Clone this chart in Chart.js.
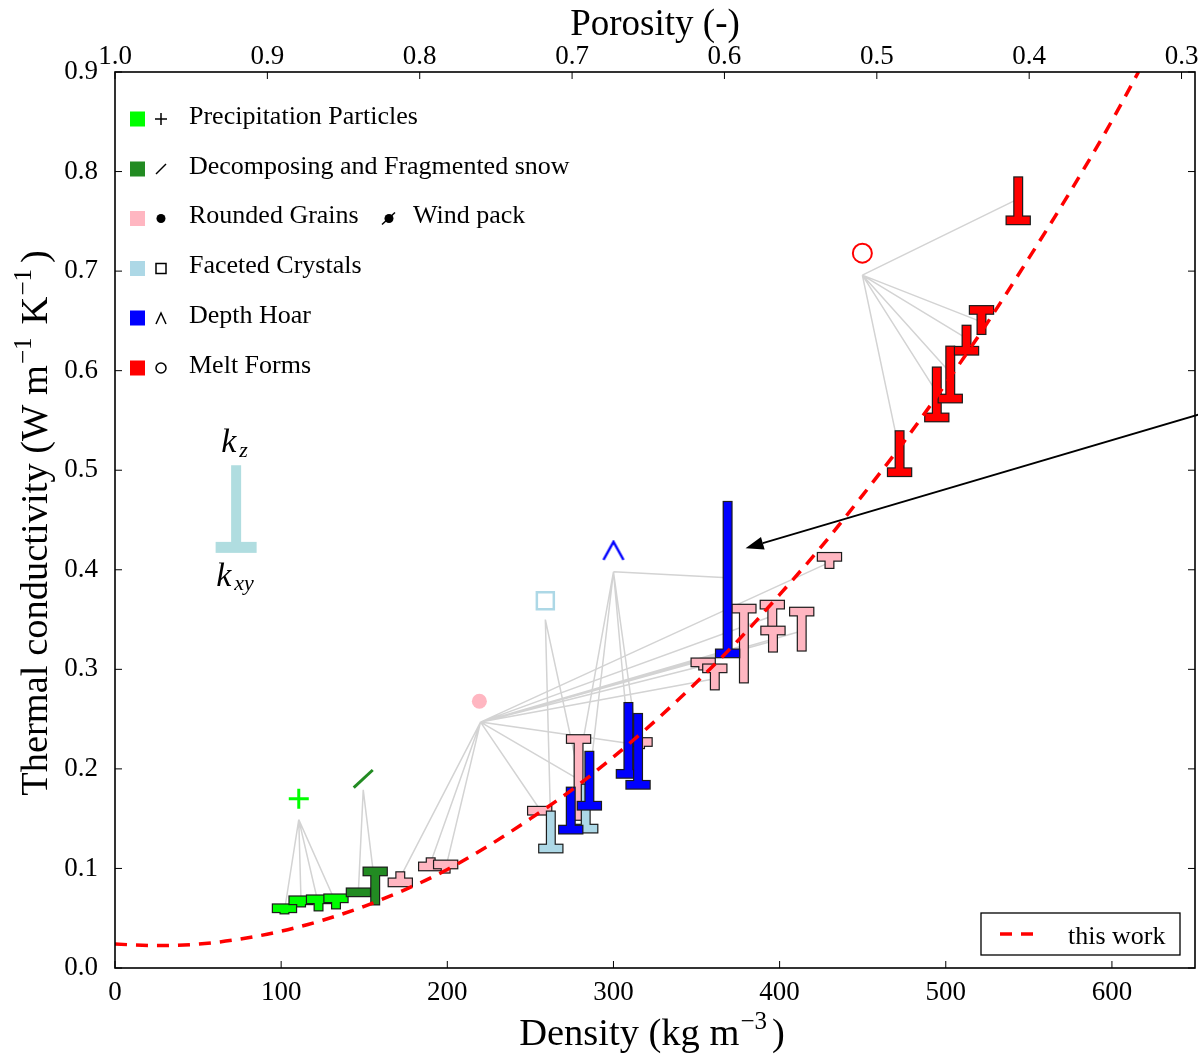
<!DOCTYPE html>
<html>
<head>
<meta charset="utf-8">
<script src="https://cdn.jsdelivr.net/npm/chart.js@4.4.0/dist/chart.umd.min.js"></script>
<style>
  body { margin: 0; background: #fff; }
  #wrap { width: 1198px; height: 1056px; }
</style>
</head>
<body>
<div id="wrap"><canvas id="snowChart" width="1198" height="1056"></canvas></div>
<script>
// axis ticks
const densityTicks = [0, 100, 200, 300, 400, 500, 600];
const porosityTicks = [1.0, 0.9, 0.8, 0.7, 0.6, 0.5, 0.4, 0.3];
const condTicks = [0, 0.1, 0.2, 0.3, 0.4, 0.5, 0.6, 0.7, 0.8, 0.9];
const iceDensity = 917;

// snow classes
const classNames = ['Precipitation Particles', 'Decomposing and Fragmented snow', 'Rounded Grains',
                    'Faceted Crystals', 'Depth Hoar', 'Melt Forms'];
const classColors = ['#00ff00', '#228b22', '#ffb6c1', '#add8e6', '#0000ff', '#ff0000'];

// class symbol and where the grey lines start
const symbolDensity = [110.6, 149.4, 219.3, 259.0, 300.0, 449.8];
const symbolCond = [0.170, 0.190, 0.268, 0.369, 0.419, 0.718];
const hubDensity = [110.6, 149.4, 220.0, 259.0, 300.0, 449.8];
const hubCond = [0.149, 0.179, 0.247, 0.350, 0.398, 0.696];

// samples: class, density, k_xy, k_z
const sampleClass = [0, 0, 0, 0,
                     1, 1,
                     2, 2, 2, 2, 2, 2, 2, 2, 2, 2, 2, 2, 2,
                     3, 3,
                     4, 4, 4, 4, 4,
                     5, 5, 5, 5, 5, 5];
const sampleDensity = [102, 112, 122.5, 133,
                       146.5, 156.6,
                       171.7, 190, 199, 255.6, 279, 316, 354, 361, 378.5, 395.6, 396, 413.3, 430,
                       262.3, 283.3,
                       274.3, 285.5, 309, 314.8, 368.7,
                       472.2, 494.6, 502.7, 512.5, 521.5, 543.6];
const sampleKxy = [0.060, 0.068, 0.069, 0.070,
                   0.076, 0.097,
                   0.086, 0.102, 0.104, 0.158, 0.230, 0.227, 0.307, 0.301, 0.361, 0.365, 0.339, 0.358, 0.413,
                   0.120, 0.140,
                   0.139, 0.163, 0.195, 0.184, 0.316,
                   0.498, 0.553, 0.572, 0.620, 0.661, 0.751];
const sampleKz = [0.055, 0.062, 0.058, 0.060,
                  0.079, 0.064,
                  0.096, 0.110, 0.096, 0.161, 0.149, 0.221, 0.300, 0.280, 0.287, 0.342, 0.318, 0.319, 0.402,
                  0.157, 0.184,
                  0.181, 0.217, 0.266, 0.255, 0.468,
                  0.539, 0.603, 0.624, 0.645, 0.637, 0.794];

// "this work" curve
const fitDensity = [0, 25, 50, 75, 100, 125, 150, 175, 200, 225, 250, 275, 300,
                    325, 350, 375, 400, 425, 450, 475, 500, 525, 550, 575, 600, 616];
const fitCond = [0.024, 0.0225, 0.024, 0.029, 0.037, 0.048, 0.062, 0.079, 0.099, 0.123, 0.150, 0.179, 0.212,
                 0.248, 0.287, 0.329, 0.375, 0.423, 0.475, 0.529, 0.587, 0.648, 0.713, 0.780, 0.851, 0.900];

// annotations
const keyDensity = 72.9, keyKz = 0.505, keyKxy = 0.4225;
const arrowFrom = [652.4, 0.556];
const arrowTo = [379.5, 0.4216];

const serif = "'Liberation Serif', 'Times New Roman', serif";
const tickFont = { family: serif, size: 27 };
const mainTitle = '38.5px ' + serif;
const supTitle = '25px ' + serif;

// caret symbol for depth hoar
function caretImage(color, w, h, lw) {
  const c = document.createElement('canvas');
  c.width = w; c.height = h;
  const g = c.getContext('2d');
  g.strokeStyle = color; g.lineWidth = lw; g.lineJoin = 'miter';
  g.beginPath();
  g.moveTo(2, h - 2); g.lineTo(w / 2, 2); g.lineTo(w - 2, h - 2);
  g.stroke();
  return c;
}

function connectorData(c) {
  const pts = [];
  sampleClass.forEach((cls, i) => {
    if (cls !== c) return;
    pts.push({ x: hubDensity[c], y: hubCond[c] });
    pts.push({ x: sampleDensity[i], y: (sampleKxy[i] + sampleKz[i]) / 2 });
    pts.push({ x: sampleDensity[i], y: null });
  });
  return pts;
}

function drawSamples(chart) {
  const { ctx, chartArea, scales: { x, y } } = chart;
  const stemW = 7.6, barW = 23, barH = 7.4;
  ctx.save();
  ctx.beginPath();
  ctx.rect(chartArea.left, chartArea.top, chartArea.width, chartArea.height);
  ctx.clip();
  for (let i = 0; i < sampleDensity.length; i++) {
    const px = x.getPixelForValue(sampleDensity[i]);
    const pxy = y.getPixelForValue(sampleKxy[i]);
    const pz = y.getPixelForValue(sampleKz[i]);
    const rects = [
      [px - stemW / 2, Math.min(pxy, pz), stemW, Math.abs(pz - pxy)],
      [px - barW / 2, pxy - barH / 2, barW, barH]
    ];
    ctx.lineWidth = 2.4;
    ctx.strokeStyle = '#1c1c1c';
    rects.forEach(r => ctx.strokeRect(r[0], r[1], r[2], r[3]));
    ctx.fillStyle = classColors[sampleClass[i]];
    rects.forEach(r => ctx.fillRect(r[0], r[1], r[2], r[3]));
  }
  ctx.restore();
}

function drawFrame(chart) {
  const { ctx, chartArea: a, scales } = chart;
  const t = 7;
  ctx.save();
  ctx.strokeStyle = '#000';
  ctx.lineWidth = 1;
  ctx.beginPath();
  scales.x.ticks.forEach(tk => {
    const p = scales.x.getPixelForValue(tk.value);
    ctx.moveTo(p, a.bottom); ctx.lineTo(p, a.bottom - t);
  });
  scales.xTop.ticks.forEach(tk => {
    const p = scales.xTop.getPixelForValue(tk.value);
    ctx.moveTo(p, a.top); ctx.lineTo(p, a.top + t);
  });
  scales.y.ticks.forEach(tk => {
    const p = scales.y.getPixelForValue(tk.value);
    ctx.moveTo(a.left, p); ctx.lineTo(a.left + t, p);
    ctx.moveTo(a.right, p); ctx.lineTo(a.right - t, p);
  });
  ctx.stroke();
  ctx.lineWidth = 1.6;
  ctx.strokeRect(a.left, a.top, a.width, a.height);
  ctx.restore();
}

// text made of pieces, some raised as superscripts
function drawRichText(ctx, parts, x, y, rotate) {
  ctx.save();
  ctx.translate(x, y);
  if (rotate) ctx.rotate(-Math.PI / 2);
  ctx.fillStyle = '#000';
  ctx.textBaseline = 'alphabetic';
  ctx.textAlign = 'left';
  let total = 0;
  parts.forEach(p => { ctx.font = p.font; total += ctx.measureText(p.text).width + (p.gap || 0); });
  let cx = -total / 2;
  parts.forEach(p => {
    ctx.font = p.font;
    ctx.fillText(p.text, cx, -(p.rise || 0));
    cx += ctx.measureText(p.text).width + (p.gap || 0);
  });
  ctx.restore();
}

function drawTitles(chart) {
  const { ctx, chartArea: a } = chart;
  const mid = (a.left + a.right) / 2;
  drawRichText(ctx, [
    { text: 'Density (kg m', font: mainTitle, gap: 1 },
    { text: '−3', font: supTitle, rise: 16, gap: 5 },
    { text: ')', font: mainTitle }
  ], mid - 3, 1045, false);
  drawRichText(ctx, [{ text: 'Porosity (-)', font: '37px ' + serif }], mid, 35, false);
  drawRichText(ctx, [
    { text: 'Thermal conductivity (W m', font: mainTitle, gap: 1 },
    { text: '−1', font: supTitle, rise: 16, gap: 13 },
    { text: 'K', font: mainTitle, gap: 1 },
    { text: '−1', font: supTitle, rise: 16, gap: 6 },
    { text: ')', font: mainTitle }
  ], 47, (a.top + a.bottom) / 2 + 3, true);
}

function drawArrow(chart) {
  const { ctx, scales: { x, y } } = chart;
  const x0 = x.getPixelForValue(arrowFrom[0]), y0 = y.getPixelForValue(arrowFrom[1]);
  const x1 = x.getPixelForValue(arrowTo[0]), y1 = y.getPixelForValue(arrowTo[1]);
  const ang = Math.atan2(y1 - y0, x1 - x0);
  const len = 18, half = 6.5;
  const bx = x1 - len * Math.cos(ang), by = y1 - len * Math.sin(ang);
  ctx.save();
  ctx.strokeStyle = '#000'; ctx.fillStyle = '#000'; ctx.lineWidth = 1.8;
  ctx.beginPath(); ctx.moveTo(x0, y0); ctx.lineTo(bx, by); ctx.stroke();
  ctx.beginPath();
  ctx.moveTo(x1, y1);
  ctx.lineTo(bx + half * Math.sin(ang), by - half * Math.cos(ang));
  ctx.lineTo(bx - half * Math.sin(ang), by + half * Math.cos(ang));
  ctx.closePath(); ctx.fill();
  ctx.restore();
}

function drawKey(chart) {
  const { ctx, scales: { x, y } } = chart;
  const px = x.getPixelForValue(keyDensity);
  const pz = y.getPixelForValue(keyKz);
  const pxy = y.getPixelForValue(keyKxy);
  ctx.save();
  ctx.fillStyle = '#b0dde0';
  ctx.fillRect(px - 5, pz, 10, pxy - pz);
  ctx.fillRect(px - 20.5, pxy - 5.5, 41, 11);
  ctx.fillStyle = '#000';
  ctx.textBaseline = 'alphabetic';
  ctx.font = 'italic 34px ' + serif;
  ctx.fillText('k', px - 15, pz - 13);
  ctx.fillText('k', px - 20, pxy + 39);
  ctx.font = 'italic 22px ' + serif;
  ctx.fillText('z', px + 3, pz - 8);
  ctx.fillText('xy', px - 2, pxy + 43);
  ctx.restore();
}

function drawClassLegend(chart) {
  const { ctx } = chart;
  const rows = [119, 169, 218.5, 268.5, 318, 368];
  ctx.save();
  ctx.font = '26px ' + serif;
  ctx.textBaseline = 'alphabetic';
  rows.forEach((cy, i) => {
    ctx.fillStyle = classColors[i];
    ctx.fillRect(130, cy - 7.5, 15, 15);
    ctx.fillStyle = '#000';
    ctx.fillText(classNames[i], 189, cy + 4.5);
    const sx = 161;
    ctx.strokeStyle = '#000'; ctx.lineWidth = 1.5;
    ctx.beginPath();
    if (i === 0) {
      ctx.moveTo(sx - 6, cy); ctx.lineTo(sx + 6, cy);
      ctx.moveTo(sx, cy - 6); ctx.lineTo(sx, cy + 6);
      ctx.stroke();
    } else if (i === 1) {
      ctx.moveTo(sx - 5, cy + 5); ctx.lineTo(sx + 5, cy - 5);
      ctx.stroke();
    } else if (i === 2) {
      ctx.arc(sx, cy, 4.5, 0, Math.PI * 2); ctx.fill();
      // wind pack
      ctx.beginPath(); ctx.arc(389, cy, 4.5, 0, Math.PI * 2); ctx.fill();
      ctx.beginPath(); ctx.moveTo(382, cy + 6); ctx.lineTo(395, cy - 6); ctx.stroke();
      ctx.fillText('Wind pack', 413, cy + 4.5);
    } else if (i === 3) {
      ctx.strokeRect(sx - 5, cy - 5, 10, 10);
    } else if (i === 4) {
      ctx.moveTo(sx - 5, cy + 6); ctx.lineTo(sx, cy - 5); ctx.lineTo(sx + 5, cy + 6);
      ctx.stroke();
    } else {
      ctx.arc(sx, cy, 5, 0, Math.PI * 2); ctx.stroke();
    }
  });
  ctx.restore();
}

function drawFitLegend(chart) {
  const { ctx } = chart;
  ctx.save();
  ctx.fillStyle = '#fff';
  ctx.fillRect(981, 913, 199, 42);
  ctx.strokeStyle = '#000'; ctx.lineWidth = 1.3;
  ctx.strokeRect(981, 913, 199, 42);
  ctx.strokeStyle = '#ff0000'; ctx.lineWidth = 3.5;
  ctx.setLineDash([12, 9]);
  ctx.beginPath(); ctx.moveTo(1000, 934); ctx.lineTo(1034, 934); ctx.stroke();
  ctx.setLineDash([]);
  ctx.fillStyle = '#000';
  ctx.font = '26px ' + serif;
  ctx.fillText('this work', 1068, 944);
  ctx.restore();
}

const snowPlugin = {
  id: 'snowMarkers',
  beforeDatasetDraw(chart, args) {
    if (args.index === 0) drawSamples(chart);
  },
  afterDraw(chart) {
    drawFrame(chart);
    drawTitles(chart);
    drawArrow(chart);
    drawKey(chart);
    drawClassLegend(chart);
    drawFitLegend(chart);
  }
};

const datasets = [{
  label: 'this work',
  data: fitDensity.map((d, i) => ({ x: d, y: fitCond[i] })),
  showLine: true,
  borderColor: '#ff0000',
  borderWidth: 3.5,
  borderDash: [12, 9],
  pointRadius: 0,
  cubicInterpolationMode: 'monotone'
}];

classNames.forEach((name, c) => {
  datasets.push({
    label: name + ' links',
    data: connectorData(c),
    showLine: true,
    spanGaps: false,
    borderColor: '#d3d3d3',
    borderWidth: 1.5,
    pointRadius: 0
  });
});

const symbolStyles = [
  { pointStyle: 'cross', pointRadius: 10, pointBorderWidth: 3, pointBackgroundColor: 'transparent' },
  { pointStyle: 'line', pointRadius: 13, pointBorderWidth: 3, rotation: -43, pointBackgroundColor: 'transparent' },
  { pointStyle: 'circle', pointRadius: 7.5, pointBorderWidth: 0, pointBackgroundColor: classColors[2] },
  { pointStyle: 'rect', pointRadius: 12, pointBorderWidth: 2.5, pointBackgroundColor: 'transparent' },
  { pointStyle: caretImage('#0000ff', 24, 22, 2.5), pointRadius: 10, pointBorderWidth: 0 },
  { pointStyle: 'circle', pointRadius: 9.5, pointBorderWidth: 2, pointBackgroundColor: 'transparent' }
];

classNames.forEach((name, c) => {
  datasets.push(Object.assign({
    label: name,
    data: [{ x: symbolDensity[c], y: symbolCond[c] }],
    showLine: false,
    pointBorderColor: classColors[c],
    pointHoverRadius: 0
  }, symbolStyles[c]));
});

new Chart(document.getElementById('snowChart'), {
  type: 'scatter',
  data: { datasets: datasets },
  options: {
    responsive: false,
    animation: false,
    devicePixelRatio: 1,
    layout: { autoPadding: false, padding: { left: 0, right: 3, top: 0, bottom: 0 } },
    plugins: { legend: { display: false }, tooltip: { enabled: false } },
    scales: {
      x: {
        type: 'linear', position: 'bottom', min: 0, max: 650,
        afterBuildTicks: s => { s.ticks = densityTicks.map(v => ({ value: v })); },
        afterFit: s => { s.height = 88; s.paddingLeft = 0; s.paddingRight = 0; },
        grid: { display: false },
        border: { display: false },
        ticks: { font: tickFont, color: '#000', padding: 1, maxRotation: 0, autoSkip: false }
      },
      xTop: {
        type: 'linear', position: 'top', min: 0, max: 650,
        afterBuildTicks: s => { s.ticks = porosityTicks.map(p => ({ value: iceDensity * (1 - p) })); },
        afterFit: s => { s.height = 72; s.paddingLeft = 0; s.paddingRight = 0; },
        grid: { display: false },
        border: { display: false },
        ticks: {
          font: tickFont, color: '#000', padding: -9, maxRotation: 0, autoSkip: false,
          callback: v => (1 - v / iceDensity).toFixed(1)
        }
      },
      y: {
        type: 'linear', position: 'left', min: 0, max: 0.9,
        afterBuildTicks: s => { s.ticks = condTicks.map(v => ({ value: v })); },
        afterFit: s => { s.width = 115; s.paddingTop = 0; s.paddingBottom = 0; },
        grid: { display: false },
        border: { display: false },
        ticks: { font: tickFont, color: '#000', padding: 9, callback: v => v.toFixed(1) }
      }
    }
  },
  plugins: [snowPlugin]
});
</script>
</body>
</html>
